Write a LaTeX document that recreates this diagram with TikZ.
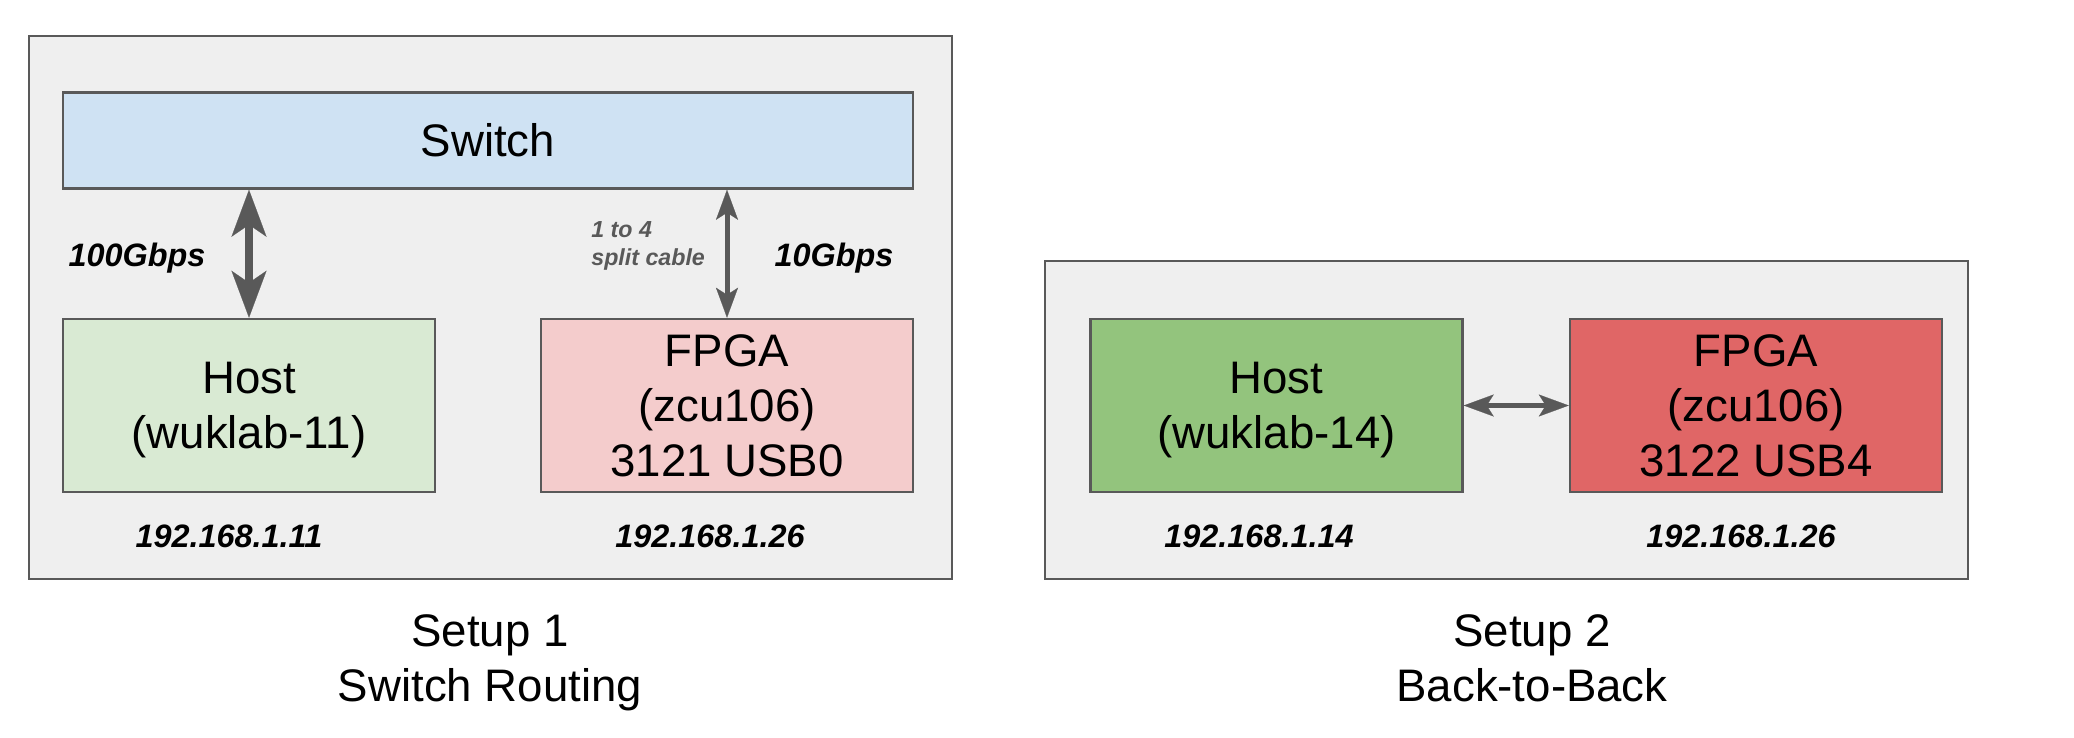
\documentclass[tikz,border=0pt]{standalone}
\usepackage{fontspec}
\setmainfont{Liberation Sans}
\usetikzlibrary{arrows.meta}
\definecolor{panelfill}{HTML}{EFEFEF}
\definecolor{edge}{HTML}{595959}
\definecolor{switchfill}{HTML}{CFE2F3}
\definecolor{hostlight}{HTML}{D9EAD3}
\definecolor{fpgalight}{HTML}{F4CCCC}
\definecolor{hostdark}{HTML}{93C47D}
\definecolor{fpgadark}{HTML}{E06666}
\newcommand\bigtxt{\fontsize{22.8pt}{27.5pt}\selectfont}
\newcommand\ratetxt{\fontsize{16.2pt}{19pt}\selectfont\bfseries\itshape}
\newcommand\iptxt{\fontsize{16.2pt}{19pt}\selectfont\bfseries\itshape}
\newcommand\notetxt{\fontsize{11.6pt}{14pt}\selectfont\bfseries\itshape}
\begin{document}
\begin{tikzpicture}[x=0.5pt,y=-0.5pt,
  panel/.style={draw=edge, line width=1.35pt, fill=panelfill, minimum width=461.5pt, inner sep=0pt},
  unitbox/.style={draw=edge, line width=1.25pt, minimum width=186pt, minimum height=86.5pt,
    inner sep=0pt, align=center, font=\bigtxt},
  switchbox/.style={draw=edge, line width=1.25pt, fill=switchfill, minimum width=425pt,
    minimum height=48pt, inner sep=0pt, font=\bigtxt},
  thicklink/.style={draw=edge, line width=4pt,
    {Stealth[length=23.5pt,width=17.5pt,inset=6pt,line width=0.1pt]}-{Stealth[length=23.5pt,width=17.5pt,inset=6pt,line width=0.1pt]}},
  thinlink/.style={draw=edge, line width=2.5pt,
    {Stealth[length=15pt,width=11pt,inset=3.5pt,line width=0.1pt]}-{Stealth[length=15pt,width=11pt,inset=3.5pt,line width=0.1pt]}},
  rate/.style={font=\ratetxt, inner sep=0pt, anchor=base},
  iplabel/.style={font=\iptxt, inner sep=0pt, anchor=base},
  note/.style={font=\notetxt, text=edge, inner sep=0pt, align=left, anchor=north west},
  caption/.style={font=\bigtxt, inner sep=0pt, align=center}
]
\useasboundingbox (0,0) rectangle (2074,738);

% Setup 1
\node[panel, minimum height=271.5pt] (p1) at (490.5,307.5) {};
\node[switchbox] (sw) at (488,140.5) {Switch};
\node[unitbox, fill=hostlight] (h1) at (249,405.5) {Host\\\smash{(wuklab-11)}};
\node[unitbox, fill=fpgalight] (f1) at (727,405.5) {FPGA\\(zcu106)\\3121 USB0};
\draw[thicklink] (sw.south -| h1) -- (h1.north);
\draw[thinlink] (sw.south -| f1) -- (f1.north);
\node[rate] (r100) at (137,266) {100Gbps};
\node[rate] (r10) at (834,266) {10Gbps};
\node[note] (split) at (591,221) {1 to 4\\split cable};
\node[iplabel] (ip11) at (229,547) {192.168.1.11};
\node[iplabel] (ip26a) at (710,547) {192.168.1.26};
\node[caption] (cap1) at (490,662.7) {Setup 1\\Switch Routing};

% Setup 2
\node[panel, minimum height=159pt] (p2) at (1506.5,420) {};
\node[unitbox, fill=hostdark] (h2) at (1276.5,405.5) {Host\\\smash{(wuklab-14)}};
\node[unitbox, fill=fpgadark] (f2) at (1756,405.5) {FPGA\\(zcu106)\\3122 USB4};
\draw[thinlink] (h2.east) -- (f2.west);
\node[iplabel] (ip14) at (1259,547) {192.168.1.14};
\node[iplabel] (ip26b) at (1741,547) {192.168.1.26};
\node[caption] (cap2) at (1532,657.9) {Setup 2\\Back-to-Back};
\end{tikzpicture}
\end{document}
